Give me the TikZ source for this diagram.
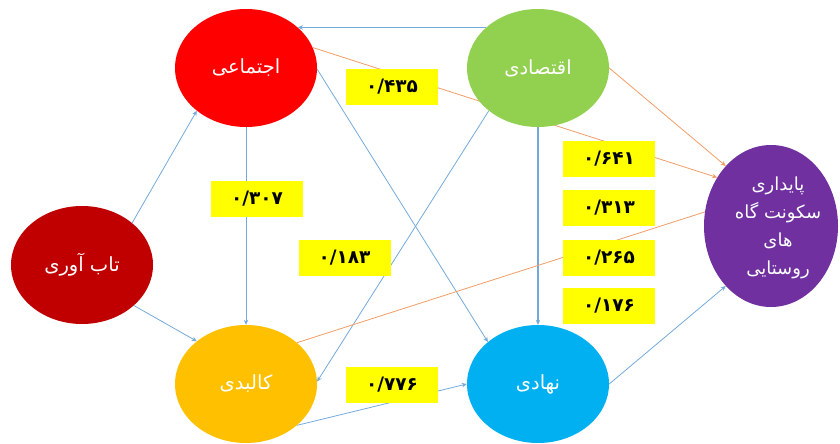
\documentclass[tikz,border=0pt]{standalone}
\usepackage{fontspec}
\newfontfamily\fa[Script=Arabic]{DejaVu Sans}
\TeXXeTstate=1
\usetikzlibrary{shapes.geometric,arrows.meta}
\pgfdeclarelayer{bg}
\pgfsetlayers{bg,main}
\definecolor{cejt}{HTML}{FF0000}
\definecolor{ceqt}{HTML}{92D050}
\definecolor{ctab}{HTML}{C00000}
\definecolor{ckal}{HTML}{FFC000}
\definecolor{cnah}{HTML}{00B0F0}
\definecolor{cpur}{HTML}{7030A0}
\definecolor{cval}{HTML}{FFFF00}
\definecolor{lblue}{HTML}{5B9BD5}
\definecolor{lorange}{HTML}{ED7D31}
\begin{document}
\begin{tikzpicture}[x=1pt,y=-1pt,
  circ/.style={ellipse, minimum width=142pt, minimum height=118pt, inner sep=0pt, text=white, font=\fa\fontsize{19.5}{28}\selectfont},
  val/.style={fill=cval, minimum width=92pt, minimum height=36pt, inner sep=0pt, font=\fa\bfseries\fontsize{18.5}{20}\selectfont},
  bline/.style={draw=lblue!85, line width=0.8pt, -{Stealth[length=5pt,width=4.5pt,fill=lblue]}},
  oline/.style={draw=lorange!75, line width=0.8pt, -{Stealth[length=5pt,width=4.5pt,fill=lorange]}},
]
\useasboundingbox (0,0) rectangle (840,444);
% ellipses
\node[circ, fill=cejt] (ejt) at (246,68) {\beginR اجتماعی\endR};
\node[circ, fill=ceqt] (eqt) at (538,68) {\beginR اقتصادی\endR};
\node[circ, fill=ctab] (tab) at (82,265) {\beginR تاب آوری\endR};
\node[circ, fill=ckal] (kal) at (246,384) {\beginR کالبدی\endR};
\node[circ, fill=cnah] (nah) at (538,384) {\beginR نهادی\endR};
\node[circ, fill=cpur, minimum width=134pt, minimum height=162pt] (pur) at (771,226) {};
\node[text=white, font=\fa\fontsize{18}{28}\selectfont, align=center] (purt) at (778,228)
  {\beginR پایداری\endR\\ \beginR سکونت گاه\endR\\ \beginR های\endR\\ \beginR روستایی\endR};
% value boxes
\node[val] (v435) at (392,86.5) {۰/۴۳۵};
\node[val] (v307) at (257,199) {۰/۳۰۷};
\node[val] (v183) at (344.5,258) {۰/۱۸۳};
\node[val] (v776) at (392,385) {۰/۷۷۶};
\node[val] (v641) at (609,159) {۰/۶۴۱};
\node[val] (v313) at (609,208) {۰/۳۱۳};
\node[val] (v265) at (609,258) {۰/۲۶۵};
\node[val] (v176) at (609,305.5) {۰/۱۷۶};
% connectors
\begin{pgfonlayer}{bg}
\draw[bline] (tab.40) -- (ejt.221);
\draw[bline] (tab.-38) -- (kal.139);
\draw[bline] (ejt.south) -- (kal.north);
\draw[bline] (ejt.-1) -- (nah.140);
\draw[bline] (eqt.142) -- (ejt.38);
\draw[bline] (eqt.221) -- (kal.2);
\draw[bline, line width=1.6pt] (eqt.south) -- (nah.north);
\draw[bline] (kal.-39) -- (nah.west);
\draw[bline] (nah.east) -- (pur.233);
\draw[oline] (ejt.17) -- (pur.138.5);
\draw[oline] (eqt.east) -- (pur.127);
\draw[draw=lorange!75, line width=0.8pt] (kal.39.6) -- (pur.168);
\end{pgfonlayer}
\end{tikzpicture}
\end{document}
